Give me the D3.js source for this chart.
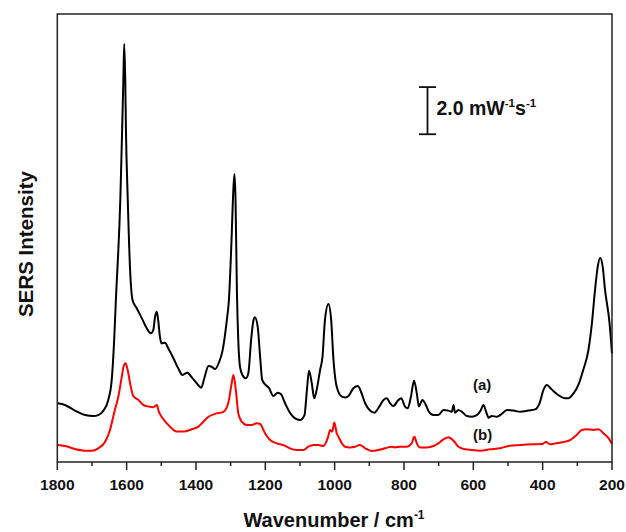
<!DOCTYPE html>
<html>
<head>
<meta charset="utf-8">
<script src="https://cdn.jsdelivr.net/npm/d3@7"></script>
<style>
  body { margin: 0; background: #fff; }
  text { font-family: "Liberation Sans", Arial, sans-serif; font-weight: bold; fill: #111; }
</style>
</head>
<body>
<svg id="chart" width="626" height="532"></svg>
<script>
// spectrum (a): [wavenumber, intensity]
var spectrumA = [
  [1799, 2.49], [1778, 2.42], [1749, 2.18], [1720, 1.99], [1696, 1.95], [1682, 1.99],
  [1667, 2.18], [1653, 2.63], [1643, 3.48], [1636, 5.17], [1631, 6.87], [1618, 11.25],
  [1613, 14.08], [1609.5, 16.2], [1607, 17.73], [1604, 16.2], [1602, 14.08], [1597, 11.25],
  [1590, 8.14], [1583, 6.87], [1571, 6.52], [1556, 6.09], [1542, 5.67], [1530, 5.46],
  [1523, 5.6], [1518, 6.16], [1513, 6.37], [1509, 6.02], [1504, 5.31], [1499, 5.03],
  [1489, 5.06], [1480, 4.82], [1465, 4.40], [1451, 3.97], [1439, 3.69], [1425, 3.79],
  [1412, 3.59], [1398, 3.34], [1385, 3.15], [1376, 3.55], [1364, 4.07], [1355, 4.04],
  [1345, 3.94], [1333, 4.25], [1324, 4.68], [1311, 6.02], [1305, 6.87], [1298, 9.2],
  [1292, 11.6], [1289, 12.21], [1286, 11.2], [1282, 7.29], [1278, 5.17], [1273, 4.04],
  [1266, 3.69], [1256, 3.55], [1249, 3.76], [1241, 5.17], [1234, 6.02], [1230, 6.14],
  [1222, 5.74], [1215, 4.47], [1209, 3.48], [1199, 3.27], [1189, 3.13], [1177, 2.80],
  [1164, 2.94], [1155, 2.88], [1143, 2.49], [1129, 2.09], [1114, 1.85], [1100, 1.78],
  [1087, 1.99], [1080, 3.05], [1074, 3.87], [1066, 3.34], [1059, 2.70], [1052, 3.05],
  [1042, 3.90], [1035, 4.47], [1028, 6.02], [1018, 6.70], [1010, 6.02], [1004, 4.47],
  [994, 3.19], [979, 2.77], [970, 2.74], [960, 2.80], [946, 3.13], [933, 3.22],
  [924, 2.98], [912, 2.49], [898, 2.18], [885, 2.09], [874, 2.28], [859, 2.63],
  [850, 2.70], [840, 2.49], [831, 2.37], [816, 2.63], [808, 2.70], [797, 2.35],
  [789, 2.28], [780, 2.77], [771, 3.45], [763, 2.91], [757, 2.35], [747, 2.63],
  [737, 2.42], [728, 2.13], [715, 1.99], [701, 1.99], [686, 2.21], [672, 2.18],
  [662, 2.13], [657, 2.42], [653, 2.09], [643, 2.21], [633, 2.13], [619, 1.95],
  [604, 1.92], [590, 1.99], [578, 2.21], [571, 2.42], [563, 2.13], [556, 1.88],
  [547, 1.95], [532, 1.92], [518, 2.04], [503, 2.21], [484, 2.18], [465, 2.13],
  [441, 2.18], [422, 2.23], [409, 2.49], [398, 3.05], [388, 3.27], [374, 3.08],
  [355, 2.84], [335, 2.70], [326, 2.70], [311, 2.91], [297, 3.27], [283, 3.90],
  [268, 4.75], [258, 5.88], [249, 7.29], [241, 8.3], [234, 8.65], [227, 8.3],
  [220, 7.29], [207, 5.88], [200, 4.6]
];

// spectrum (b): [wavenumber, intensity]
var spectrumB = [
  [1799, 0.72], [1778, 0.68], [1749, 0.55], [1720, 0.48], [1701, 0.48], [1682, 0.58],
  [1662, 0.86], [1648, 1.36], [1634, 2.21], [1624, 2.77], [1614, 3.62], [1609, 4.04],
  [1603, 4.19], [1597, 3.90], [1590, 3.34], [1581, 2.80], [1566, 2.63], [1552, 2.42],
  [1537, 2.35], [1523, 2.32], [1513, 2.42], [1507, 2.13], [1499, 1.92], [1484, 1.64],
  [1470, 1.43], [1456, 1.29], [1436, 1.29], [1412, 1.39], [1393, 1.50], [1383, 1.64],
  [1364, 1.92], [1345, 2.04], [1321, 2.13], [1307, 2.49], [1297, 3.34], [1292, 3.69],
  [1285, 3.05], [1278, 2.07], [1268, 1.71], [1254, 1.57], [1239, 1.57], [1225, 1.64],
  [1215, 1.61], [1201, 1.22], [1186, 0.93], [1167, 0.79], [1148, 0.72], [1129, 0.58],
  [1109, 0.51], [1090, 0.51], [1076, 0.65], [1061, 0.72], [1047, 0.72], [1033, 0.68],
  [1020, 1.01], [1013, 1.36], [1007, 1.29], [1001, 1.67], [994, 1.22], [989, 1.07],
  [979, 0.79], [970, 0.65], [956, 0.62], [941, 0.65], [927, 0.72], [912, 0.58],
  [893, 0.47], [874, 0.51], [855, 0.58], [835, 0.65], [826, 0.62], [811, 0.65],
  [792, 0.65], [778, 0.79], [770, 1.07], [763, 0.79], [754, 0.62], [734, 0.62],
  [715, 0.68], [701, 0.79], [686, 0.96], [672, 1.05], [657, 0.90], [643, 0.65],
  [624, 0.54], [604, 0.51], [580, 0.48], [552, 0.54], [523, 0.58], [499, 0.68],
  [465, 0.72], [427, 0.75], [402, 0.76], [390, 0.85], [379, 0.75], [364, 0.79],
  [340, 0.85], [321, 0.93], [302, 1.15], [287, 1.36], [273, 1.39], [253, 1.36],
  [239, 1.39], [225, 1.22], [210, 1.01], [200, 0.76]
];

var majorTicks = [1800, 1600, 1400, 1200, 1000, 800, 600, 400, 200];
var minorTicks = [1700, 1500, 1300, 1100, 900, 700, 500, 300];
var seriesLabels = ["(a)", "(b)"];
var scaleBarValue = 2.0;

var svg = d3.select("#chart");
var plotLeft = 57.3, plotRight = 612, plotTop = 14, plotBottom = 462;

var x = d3.scaleLinear().domain([1800, 200]).range([plotLeft, plotRight]);
var y = d3.scaleLinear().domain([0, 19]).range([plotBottom, plotTop]);

var line = d3.line()
  .x(function(d) { return x(d[0]); })
  .y(function(d) { return y(d[1]); })
  .curve(d3.curveMonotoneX);

svg.append("path")
  .datum(spectrumB)
  .attr("d", line)
  .attr("fill", "none")
  .attr("stroke", "#ff0000")
  .attr("stroke-width", 2);

svg.append("path")
  .datum(spectrumA)
  .attr("d", line)
  .attr("fill", "none")
  .attr("stroke", "#000")
  .attr("stroke-width", 2);

// frame
svg.append("rect")
  .attr("x", plotLeft).attr("y", plotTop)
  .attr("width", plotRight - plotLeft).attr("height", plotBottom - plotTop)
  .attr("fill", "none")
  .attr("stroke", "#222")
  .attr("stroke-width", 1.5);

// ticks
svg.selectAll("line.major").data(majorTicks).enter().append("line")
  .attr("class", "major")
  .attr("x1", x).attr("x2", x)
  .attr("y1", plotBottom).attr("y2", plotBottom + 8)
  .attr("stroke", "#222").attr("stroke-width", 1.5);

svg.selectAll("line.minor").data(minorTicks).enter().append("line")
  .attr("class", "minor")
  .attr("x1", x).attr("x2", x)
  .attr("y1", plotBottom).attr("y2", plotBottom + 4)
  .attr("stroke", "#222").attr("stroke-width", 1.5);

svg.selectAll("text.tick").data(majorTicks).enter().append("text")
  .attr("class", "tick")
  .attr("x", x)
  .attr("y", 490)
  .attr("text-anchor", "middle")
  .style("font-size", "15.5px")
  .text(function(d) { return d; });

// axis titles
var xt = svg.append("text")
  .attr("x", 334).attr("y", 527)
  .attr("text-anchor", "middle")
  .style("font-size", "20px");
xt.append("tspan").text("Wavenumber / cm");
xt.append("tspan").attr("dy", -8).style("font-size", "12px").text("-1");

svg.append("text")
  .attr("transform", "translate(33,244) rotate(-90)")
  .attr("text-anchor", "middle")
  .style("font-size", "20.5px")
  .text("SERS Intensity");

// scale bar
var barBase = 13.9;
var bx = 427.5;
svg.append("line")
  .attr("x1", bx).attr("x2", bx)
  .attr("y1", y(barBase)).attr("y2", y(barBase + scaleBarValue))
  .attr("stroke", "#111").attr("stroke-width", 1.8);
[barBase, barBase + scaleBarValue].forEach(function(v) {
  svg.append("line")
    .attr("x1", bx - 8.5).attr("x2", bx + 8.5)
    .attr("y1", y(v)).attr("y2", y(v))
    .attr("stroke", "#111").attr("stroke-width", 1.8);
});

var st = svg.append("text")
  .attr("x", 436.5).attr("y", 115)
  .style("font-size", "19.5px");
st.append("tspan").text(scaleBarValue.toFixed(1) + " mW");
st.append("tspan").attr("dy", -8).style("font-size", "11.5px").text("-1");
st.append("tspan").attr("dy", 8).text("s");
st.append("tspan").attr("dy", -8).style("font-size", "11.5px").text("-1");

// series labels
svg.append("text").attr("x", 473).attr("y", 390).style("font-size", "15px").text(seriesLabels[0]);
svg.append("text").attr("x", 473).attr("y", 440).style("font-size", "15px").text(seriesLabels[1]);
</script>
</body>
</html>
